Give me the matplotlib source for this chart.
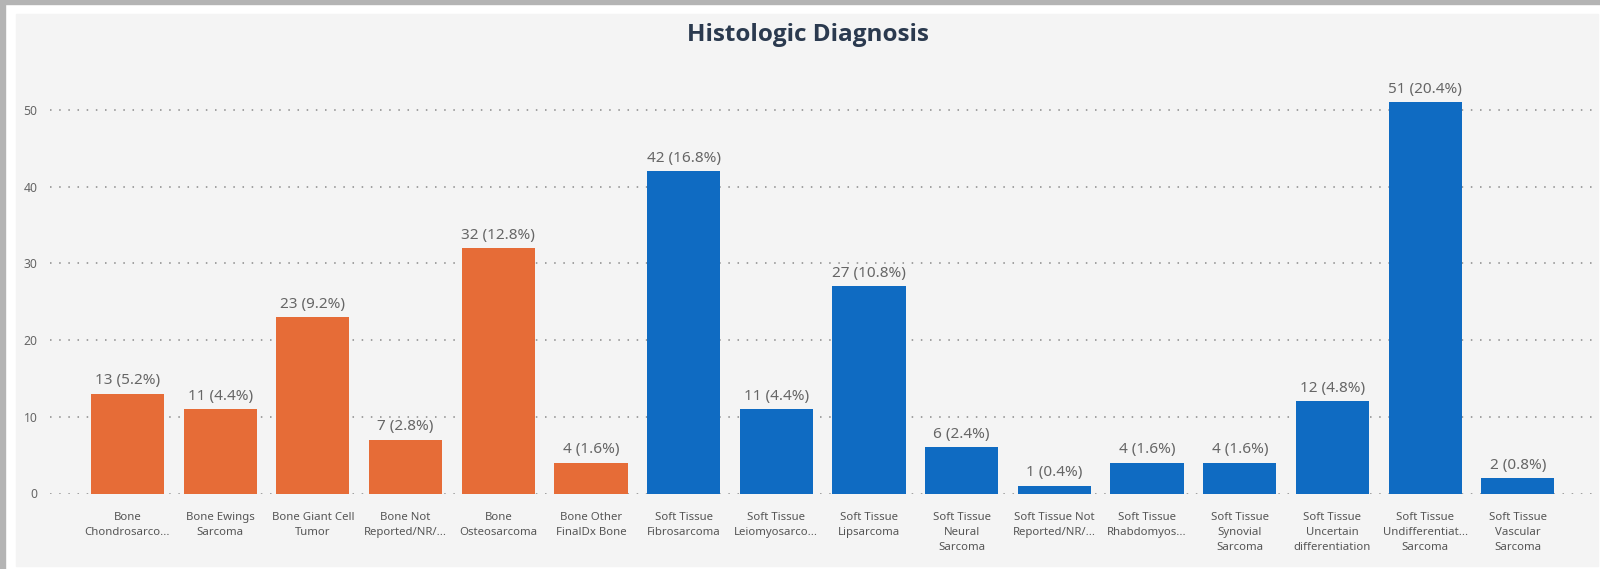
import matplotlib
matplotlib.use("Agg")
import matplotlib.pyplot as plt
from matplotlib.patches import Rectangle
import numpy as np

# categories as shown (truncated the same way as the original)
categories = [
    "Bone\nChondrosarco...",
    "Bone Ewings\nSarcoma",
    "Bone Giant Cell\nTumor",
    "Bone Not\nReported/NR/...",
    "Bone\nOsteosarcoma",
    "Bone Other\nFinalDx Bone",
    "Soft Tissue\nFibrosarcoma",
    "Soft Tissue\nLeiomyosarco...",
    "Soft Tissue\nLipsarcoma",
    "Soft Tissue\nNeural\nSarcoma",
    "Soft Tissue Not\nReported/NR/...",
    "Soft Tissue\nRhabdomyos...",
    "Soft Tissue\nSynovial\nSarcoma",
    "Soft Tissue\nUncertain\ndifferentiation",
    "Soft Tissue\nUndifferentiat...\nSarcoma",
    "Soft Tissue\nVascular\nSarcoma",
]
counts = [13, 11, 23, 7, 32, 4, 42, 11, 27, 6, 1, 4, 4, 12, 51, 2]
group = ["Bone"] * 6 + ["Soft Tissue"] * 10
y_ticks = [0, 10, 20, 30, 40, 50]

colors = {"Bone": "#E66C37", "Soft Tissue": "#0F6BC2"}
plt.rcParams['font.family'] = ["Noto Sans", 'DejaVu Sans']

fig = plt.figure(figsize=(16, 5.69), dpi=100)
fig.patch.set_facecolor("white")

# outer frame look: grey strips on top/left, light panel
fig.patches.append(Rectangle((0, 0), 5 / 1600, 1, transform=fig.transFigure, color="#B4B4B4", zorder=-10))
fig.patches.append(Rectangle((0, 1 - 4 / 569), 1, 4 / 569, transform=fig.transFigure, color="#B4B4B4", zorder=-10))
fig.patches.append(Rectangle((16 / 1600, 3 / 569), (1598 - 16) / 1600, (566 - 14) / 569,
                             transform=fig.transFigure, color="#F4F4F4", zorder=-9))

ax = fig.add_axes([50 / 1600, (569 - 493.5) / 569, (1592 - 50) / 1600, (493.5 - 71.7) / 569])
ax.set_facecolor("none")

x = np.arange(len(categories))
total = sum(counts)
bars = ax.bar(x, counts, width=0.79, color=[colors[g] for g in group], zorder=3)

for xi, v in zip(x, counts):
    ax.annotate(f"{v} ({v / total * 100:.1f}%)", (xi, v), xytext=(0, 4), textcoords="offset points",
                ha="center", va="bottom", fontsize=11, color="#666666", zorder=4)

ax.set_xlim(-0.836, 15.80)
ax.set_ylim(0, 55)
ax.set_yticks(y_ticks)
ax.set_xticks(x)
ax.set_xticklabels(categories, fontsize=8.2, color="#555555", linespacing=1.55)
ax.tick_params(axis="y", length=0, labelsize=8.8, labelcolor="#666666", pad=9)
ax.tick_params(axis="x", length=0, pad=13)
ax.yaxis.grid(True, linestyle=(0, (1, 5)), color="#8a8a8a", linewidth=1.1, zorder=0)
for s in ax.spines.values():
    s.set_visible(False)

fig.text(808 / 1600, 1 - 35 / 569, "Histologic Diagnosis", ha="center", va="center",
         fontsize=17.5, fontweight="bold", color="#2B3A4F", family=["Open Sans", "DejaVu Sans"])

fig.savefig("out.png", dpi=100)
